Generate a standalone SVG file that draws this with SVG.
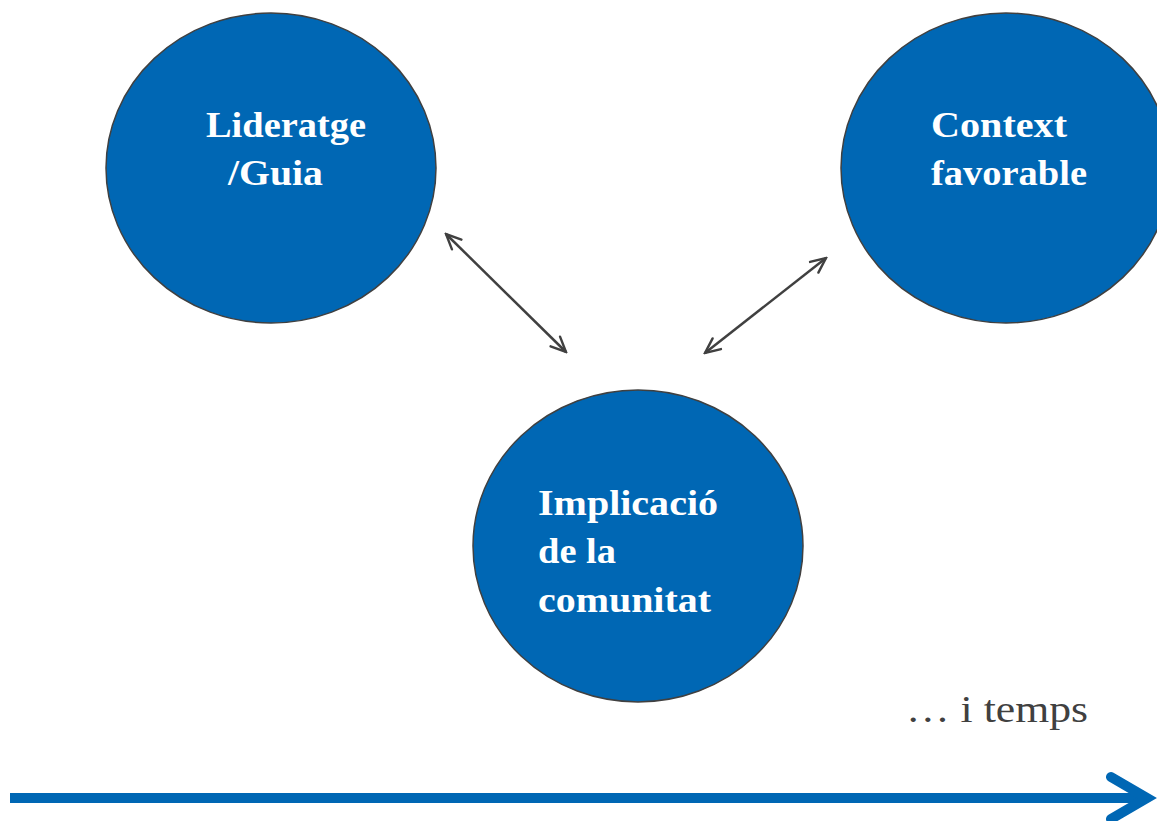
<svg xmlns="http://www.w3.org/2000/svg" width="1157" height="821" viewBox="0 0 1157 821">
<style>
.node{fill:#0067B4;stroke:#404040;stroke-width:1.5}
.lbl{font-family:"Liberation Serif",serif;font-weight:bold;font-size:35px;fill:#ffffff}
.conn{stroke:#404040;stroke-width:2.5;fill:none;marker-start:url(#ah);marker-end:url(#ah)}
</style>
<defs>
<marker id="ah" viewBox="0 0 12 12" refX="11" refY="6" markerWidth="18" markerHeight="18" markerUnits="userSpaceOnUse" orient="auto-start-reverse">
<path d="M1,1.5 L11,6 L1,10.5" fill="none" stroke="#404040" stroke-width="1.6" stroke-linecap="round"/>
</marker>
</defs>
<rect width="1157" height="821" fill="#ffffff"/>
<g id="node-lideratge">
<ellipse class="node" cx="271" cy="168" rx="165" ry="155"/>
<text class="lbl" x="206" y="137" textLength="160" lengthAdjust="spacingAndGlyphs">Lideratge</text>
<text class="lbl" x="228" y="185" textLength="95" lengthAdjust="spacingAndGlyphs">/Guia</text>
</g>
<g id="node-context">
<ellipse class="node" cx="1006" cy="168" rx="165" ry="155"/>
<text class="lbl" x="931" y="137" textLength="136" lengthAdjust="spacingAndGlyphs">Context</text>
<text class="lbl" x="931" y="185" textLength="156" lengthAdjust="spacingAndGlyphs">favorable</text>
</g>
<g id="node-implicacio">
<ellipse class="node" cx="638" cy="546" rx="165" ry="156"/>
<text class="lbl" x="538" y="515" textLength="180" lengthAdjust="spacingAndGlyphs">Implicació</text>
<text class="lbl" x="538" y="563" textLength="78" lengthAdjust="spacingAndGlyphs">de la</text>
<text class="lbl" x="538" y="612" textLength="173" lengthAdjust="spacingAndGlyphs">comunitat</text>
</g>
<g id="connectors">
<line class="conn" x1="446" y1="234" x2="566" y2="352"/>
<line class="conn" x1="826" y1="258" x2="705" y2="353"/>
</g>
<g id="timeline">
<text x="906" y="722" font-family="Liberation Serif,serif" font-size="37" fill="#404040" textLength="182" lengthAdjust="spacingAndGlyphs">… i temps</text>
<line x1="10" y1="798" x2="1144" y2="798" stroke="#0067B4" stroke-width="10"/>
<polyline points="1111,777 1147,798 1111,819" fill="none" stroke="#0067B4" stroke-width="10" stroke-linecap="round" stroke-linejoin="miter"/>
</g>
</svg>
